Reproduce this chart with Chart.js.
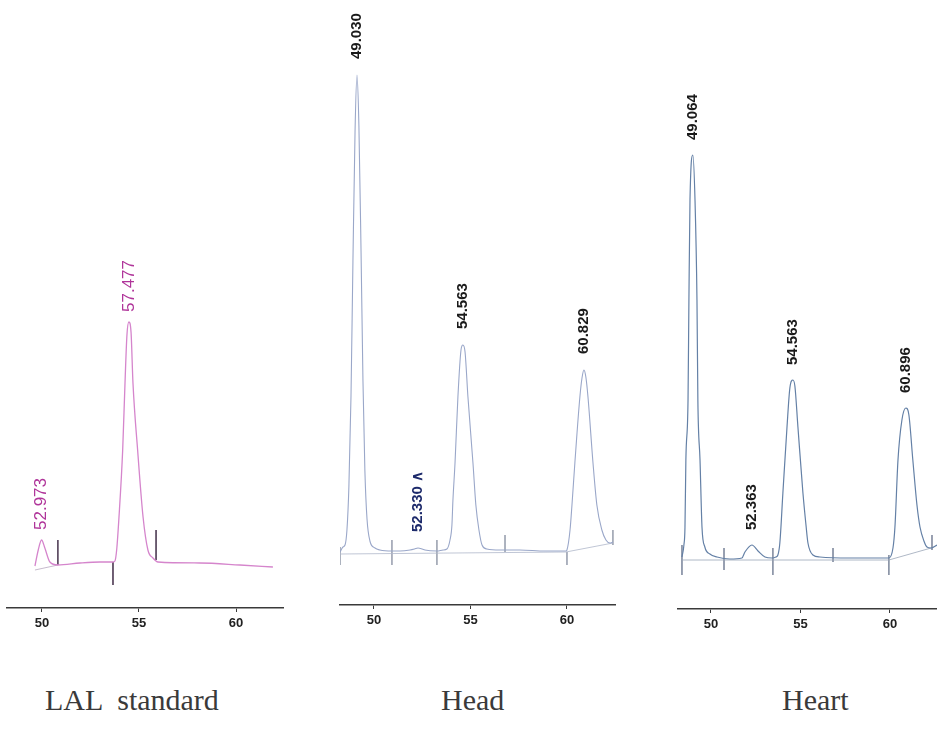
<!DOCTYPE html>
<html>
<head>
<meta charset="utf-8">
<script src="https://cdn.jsdelivr.net/npm/chart.js@4"></script>
<style>
  body { margin: 0; background: #fff; width: 937px; height: 734px; overflow: hidden; position: relative; }
  canvas { position: absolute; top: 0; }
  .cap { position: absolute; top: 685px; font-family: "Liberation Serif", serif; font-size: 30px; line-height: 30px; color: #3a3a3a; white-space: pre; }
</style>
</head>
<body>
<canvas id="lal" width="310" height="650" style="left:0px"></canvas>
<canvas id="head" width="310" height="650" style="left:320px"></canvas>
<canvas id="heart" width="297" height="650" style="left:640px"></canvas>
<div class="cap" style="left:45px">LAL  standard</div>
<div class="cap" style="left:441px">Head</div>
<div class="cap" style="left:782px">Heart</div>
<script>
// retention time (min) and detector signal
let xTicks = [50, 55, 60];

let lalTime = [49.64, 49.81, 49.98, 50.15, 50.41, 50.82, 51.96, 52.99, 53.66, 53.76, 53.85, 53.97, 54.16, 54.28, 54.38, 54.48, 54.59, 54.69, 54.93, 55.21, 55.46, 55.72, 55.98, 58.14, 60.20, 61.90];
let lalSignal = [-1, 15, 25, 17, 3, 0, 2, 3, 3, 4, 15, 48, 115, 182, 230, 243, 233, 182, 115, 48, 15, 7, 3, 2, 0, -2];
let lalBaseTime = [49.64, 50.82];
let lalBaseSignal = [-5, 0];
let lalMarkTime = [50.82, 53.66, 55.88];
let lalMarkTop = [25, 3, 35];
let lalMarkBottom = [0, -20, 5];
let lalPeakTime = [49.98, 54.48];
let lalPeakText = ["52.973", "57.477"];

let headTime = [48.24, 48.39, 48.50, 48.60, 48.70, 48.81, 48.91, 49.02, 49.12, 49.22, 49.33, 49.43, 49.53, 49.64, 49.79, 50.05, 50.31, 50.93, 51.35, 51.87, 52.10, 52.28, 52.50, 52.64, 53.26, 53.58, 53.78, 53.94, 54.04, 54.09, 54.20, 54.35, 54.51, 54.61, 54.72, 54.87, 55.13, 55.28, 55.44, 55.60, 55.85, 56.53, 57.56, 58.86, 59.95, 60.00, 60.16, 60.26, 60.41, 60.67, 60.78, 60.88, 60.98, 61.09, 61.35, 61.55, 61.81, 62.02, 62.23, 62.38];
let headSignal = [-1, 4, 6, 21, 64, 155, 289, 420, 476, 425, 300, 170, 80, 32, 10, 3, 1, 0, 0, 1, 2, 3, 2, 1, 0, 1, 2, 11, 26, 50, 88, 154, 201, 206, 199, 154, 88, 46, 21, 6, 2, 1, 1, 0, 0, 1, 21, 46, 88, 154, 173, 181, 174, 154, 88, 46, 21, 11, 8, 9];
let headBaseTime = [48.24, 59.95, 62.38];
let headBaseSignal = [-3, -1, 8];
let headMarkTime = [48.24, 50.93, 53.26, 56.79, 60.00, 62.38];
let headMarkTop = [4, 11, 11, 16, -1, 21];
let headMarkBottom = [-14, -14, -14, -1, -14, 6];
let headPeakTime = [49.12, 52.28, 54.61, 60.88];
let headPeakText = ["49.030", "52.330 \u2227", "54.563", "60.829"];

let heartTime = [48.38, 48.49, 48.55, 48.60, 48.72, 48.77, 48.83, 48.99, 49.11, 49.22, 49.27, 49.39, 49.50, 49.66, 49.94, 50.34, 51.06, 51.73, 51.90, 52.29, 52.63, 53.02, 53.41, 53.63, 53.74, 53.85, 54.02, 54.25, 54.41, 54.58, 54.69, 54.86, 55.14, 55.31, 55.42, 55.70, 56.09, 57.77, 59.94, 60.17, 60.28, 60.45, 60.67, 60.89, 61.06, 61.28, 61.51, 61.68, 61.90, 62.07, 62.29, 62.63];
let heartSignal = [1, 13, 31, 98, 158, 258, 358, 403, 358, 258, 158, 98, 31, 11, 4, 1, -1, 0, 6, 13, 7, 1, 0, 1, 3, 15, 65, 131, 170, 178, 172, 131, 65, 33, 15, 3, 1, 0, 0, 10, 31, 98, 138, 150, 143, 98, 53, 31, 17, 11, 10, 13];
let heartBaseTime = [48.38, 59.94, 62.30];
let heartBaseSignal = [-2, -2, 10];
let heartMarkTime = [48.38, 50.73, 53.46, 56.82, 59.94, 62.35];
let heartMarkTop = [13, 10, 10, 10, 3, 23];
let heartMarkBottom = [-17, -12, -17, -4, -17, 8];
let heartPeakTime = [48.99, 52.29, 54.58, 60.89];
let heartPeakText = ["49.064", "52.363", "54.563", "60.896"];


let toPoints = (xs, ys) => xs.map((x, i) => ({ x: x, y: ys[i] }));

let markPoints = (xs, tops, bottoms) => {
  let pts = [];
  xs.forEach((x, i) => {
    pts.push({ x: x, y: tops[i] }, { x: x, y: bottoms[i] }, { x: x, y: null });
  });
  return pts;
};

// rotated retention time text above each peak
let peakLabels = (times, texts, font, colors, gap) => ({
  id: "peakLabels",
  afterDatasetsDraw(chart) {
    let ctx = chart.ctx;
    let xs = chart.scales.x, ys = chart.scales.y;
    let trace = chart.data.datasets[0].data;
    times.forEach((t, i) => {
      let top = -Infinity;
      trace.forEach((p) => {
        if (Math.abs(p.x - t) < 0.3 && p.y > top) top = p.y;
      });
      ctx.save();
      ctx.translate(xs.getPixelForValue(t), ys.getPixelForValue(top) - gap);
      ctx.rotate(-Math.PI / 2);
      ctx.font = font;
      ctx.fillStyle = colors[i];
      ctx.textAlign = "left";
      ctx.textBaseline = "middle";
      ctx.fillText(texts[i], 0, 0);
      ctx.restore();
    });
  },
});

function drawPanel(id, p) {
  let ctx = document.getElementById(id).getContext("2d");
  return new Chart(ctx, {
    type: "line",
    data: {
      datasets: [
        {
          data: toPoints(p.time, p.signal),
          borderColor: p.color,
          borderWidth: p.width,
          pointRadius: 0,
          cubicInterpolationMode: "monotone",
        },
        {
          data: toPoints(p.baseTime, p.baseSignal),
          borderColor: p.baseColor,
          borderWidth: 0.8,
          pointRadius: 0,
        },
        {
          data: markPoints(p.markTime, p.markTop, p.markBottom),
          borderColor: p.markColor,
          borderWidth: 1,
          pointRadius: 0,
          spanGaps: false,
        },
      ],
    },
    options: {
      responsive: false,
      animation: false,
      layout: { padding: { left: p.left, right: p.right, top: 0, bottom: 0 } },
      plugins: { legend: { display: false }, tooltip: { enabled: false } },
      scales: {
        x: {
          type: "linear",
          min: p.min,
          max: p.max,
          afterBuildTicks: (s) => { s.ticks = xTicks.map((v) => ({ value: v })); },
          afterFit: (s) => { s.height = p.axisH; },
          border: { display: true, color: "#3a3a3a", width: 1.6 },
          grid: { drawOnChartArea: false, drawTicks: true, tickLength: 4, color: "#3a3a3a", lineWidth: 1 },
          ticks: {
            autoSkip: false,
            maxRotation: 0,
            padding: 4,
            color: "#222",
            font: { family: "Liberation Sans", size: 13, weight: "bold" },
          },
        },
        y: { display: false, min: p.yMin, max: p.yMax },
      },
    },
    plugins: [peakLabels(p.peakTime, p.peakText, p.font, p.labelColors, p.gap)],
  });
}

drawPanel("lal", {
  time: lalTime, signal: lalSignal, baseTime: lalBaseTime, baseSignal: lalBaseSignal,
  markTime: lalMarkTime, markTop: lalMarkTop, markBottom: lalMarkBottom,
  peakTime: lalPeakTime, peakText: lalPeakText,
  color: "#d585cc", width: 1.3, baseColor: "#b8a8c0", markColor: "#5b4a60",
  font: "17px 'Liberation Sans'", labelColors: ["#b0359a", "#b0359a"], gap: 10,
  left: 7, right: 27, axisH: 42, min: 48.20, max: 62.42, yMin: -43, yMax: 565,
});

drawPanel("head", {
  time: headTime, signal: headSignal, baseTime: headBaseTime, baseSignal: headBaseSignal,
  markTime: headMarkTime, markTop: headMarkTop, markBottom: headMarkBottom,
  peakTime: headPeakTime, peakText: headPeakText,
  color: "#9aa7c9", width: 1.1, baseColor: "#b0b8ca", markColor: "#a2a8b6",
  font: "bold 15px 'Liberation Sans'", labelColors: ["#1a1a1a", "#1d2a6b", "#1a1a1a", "#1a1a1a"], gap: 16,
  left: 20, right: 15, axisH: 45, min: 48.24, max: 62.49, yMin: -54, yMax: 551,
});

drawPanel("heart", {
  time: heartTime, signal: heartSignal, baseTime: heartBaseTime, baseSignal: heartBaseSignal,
  markTime: heartMarkTime, markTop: heartMarkTop, markBottom: heartMarkBottom,
  peakTime: heartPeakTime, peakText: heartPeakText,
  color: "#6480a6", width: 1.2, baseColor: "#9aa6b8", markColor: "#8a93a6",
  font: "bold 15px 'Liberation Sans'", labelColors: ["#1a1a1a", "#1a1a1a", "#1a1a1a", "#1a1a1a"], gap: 15,
  left: 38, right: 0, axisH: 41, min: 48.16, max: 62.63, yMin: -51, yMax: 558,
});
</script>
</body>
</html>
